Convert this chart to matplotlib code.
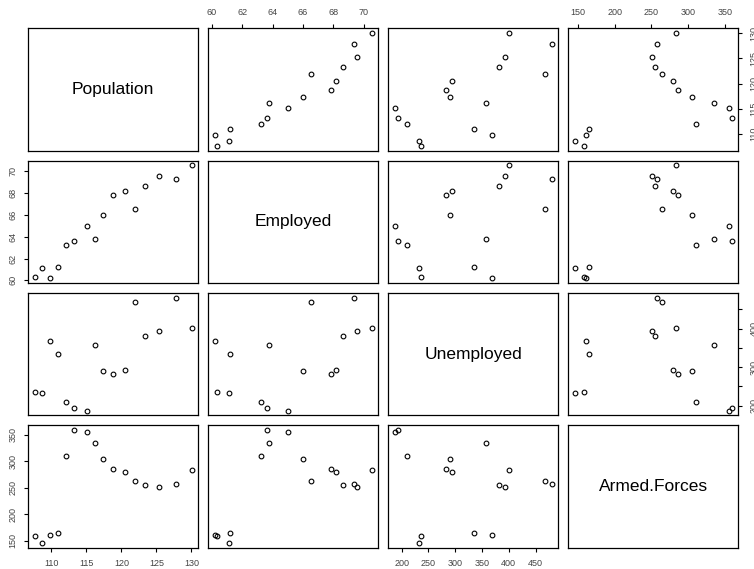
import matplotlib.pyplot as plt
import numpy as np

plt.rcParams['font.family'] = ['Liberation Sans', 'DejaVu Sans']

# longley data, 1947-1962
population = [107.608, 108.632, 109.773, 110.929, 112.075, 113.270, 115.094, 116.219,
              117.388, 118.734, 120.445, 121.950, 123.366, 125.368, 127.852, 130.081]
employed = [60.323, 61.122, 60.171, 61.187, 63.221, 63.639, 64.989, 63.761,
            66.019, 67.857, 68.169, 66.513, 68.655, 69.564, 69.331, 70.551]
unemployed = [235.6, 232.5, 368.2, 335.1, 209.9, 193.2, 187.0, 357.8,
              290.4, 282.2, 293.6, 468.1, 381.3, 393.1, 480.6, 400.7]
armed_forces = [159.0, 145.6, 161.6, 165.0, 309.9, 359.4, 354.7, 335.0,
                304.8, 285.7, 279.8, 263.7, 255.2, 251.4, 257.2, 282.7]

names = ['Population', 'Employed', 'Unemployed', 'Armed.Forces']
series = [population, employed, unemployed, armed_forces]

pop_ticks = [110, 115, 120, 125, 130]
emp_ticks = [60, 62, 64, 66, 68, 70]
unemp_ticks = [200, 250, 300, 350, 400, 450]
armed_ticks = [150, 200, 250, 300, 350]
ticks = [pop_ticks, emp_ticks, unemp_ticks, armed_ticks]
# labels shown on the right side of the Unemployed row (R drops overlapping ones)
unemp_right_labels = ['200', '', '300', '', '400', '']


def padded_range(v):
    lo, hi = min(v), max(v)
    d = (hi - lo) * 0.04
    return lo - d, hi + d


W, H = 754, 569
col_left = [28.3, 208.3, 388.3, 568.3]
row_top = [28.3, 160.7, 293.0, 425.3]
pw, ph = 170, 122.3

fig = plt.figure(figsize=(W / 100, H / 100), dpi=100)
tick_col = '#444444'

for i in range(4):
    for j in range(4):
        ax = fig.add_axes([col_left[j] / W, (H - row_top[i] - ph) / H, pw / W, ph / H])
        ax.set_xlim(padded_range(series[j]))
        ax.set_ylim(padded_range(series[i]))
        for s in ax.spines.values():
            s.set_linewidth(0.9)
            s.set_color('black')
        if i == j:
            ax.text(0.5, 0.5, names[i], transform=ax.transAxes, ha='center', va='center',
                    fontsize=12.5)
        else:
            ax.plot(series[j], series[i], 'o', mfc='none', mec='black', ms=3.4, mew=0.8)

        ax.tick_params(axis='both', which='both', bottom=False, top=False, left=False, right=False,
                       labelbottom=False, labeltop=False, labelleft=False, labelright=False,
                       length=3, width=0.8, labelsize=6.5, labelcolor=tick_col, pad=5)
        ax.set_xticks(ticks[j])
        ax.set_yticks(ticks[i])

        if i == 0 and j % 2 == 1:
            ax.tick_params(axis='x', top=True, labeltop=True)
        if i == 3 and j % 2 == 0:
            ax.tick_params(axis='x', bottom=True, labelbottom=True)
        if j == 0 and i % 2 == 1:
            ax.tick_params(axis='y', left=True, labelleft=True)
            for lab in ax.get_yticklabels():
                lab.set_rotation(90)
                lab.set_va('center')
        if j == 3 and i % 2 == 0:
            ax.tick_params(axis='y', right=True, labelright=True)
            if i == 2:
                ax.set_yticklabels(unemp_right_labels)
            for lab in ax.get_yticklabels():
                lab.set_rotation(90)
                lab.set_va('center')

fig.savefig('out.png', dpi=100)
